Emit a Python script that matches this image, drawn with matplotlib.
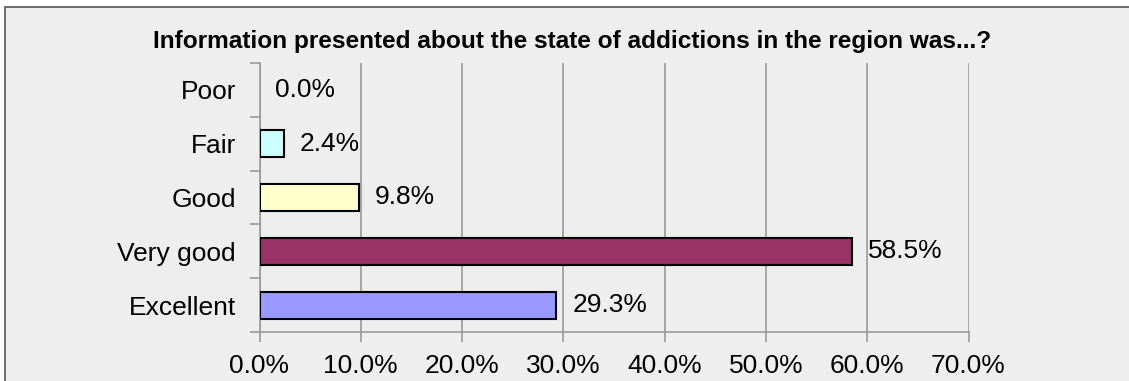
import matplotlib
matplotlib.use('Agg')
import matplotlib.pyplot as plt
from matplotlib.patches import Rectangle
from matplotlib.ticker import FuncFormatter

plt.rcParams['font.family'] = ['Liberation Sans', 'DejaVu Sans']

# data (bottom to top)
categories = ['Excellent', 'Very good', 'Good', 'Fair', 'Poor']
values = [29.3, 58.5, 9.8, 2.4, 0.0]
colors = ['#9999ff', '#993366', '#ffffcc', '#ccffff', '#ffffff']
title = 'Information presented about the state of addictions in the region was...?'

W, H = 1129, 381
fig = plt.figure(figsize=(W / 100, H / 100), dpi=100)
fig.patch.set_facecolor('white')

# outer frame of the chart area
fig.patches.append(Rectangle((5 / W, -0.05), 1.2, 1 - 7 / H + 0.05,
                             transform=fig.transFigure, facecolor='#eeeeee',
                             edgecolor='#555555', linewidth=1.2, zorder=-1))

ax = fig.add_axes([259.5 / W, 1 - 332 / H, (968.5 - 259.5) / W, (332 - 63) / H])
ax.set_facecolor('none')

pos = range(len(categories))
edges = ['black' if v > 0 else 'none' for v in values]
ax.barh(pos, values, height=0.5, color=colors, edgecolor=edges, linewidth=1.5, zorder=3)

for p, v in zip(pos, values):
    ax.annotate('%.1f%%' % v, (v, p), xytext=(11.5, 0), textcoords='offset points',
                ha='left', va='center', fontsize=19, zorder=4)

ax.set_xlim(0, 70)
ax.set_ylim(-0.5, len(categories) - 0.5)
ax.set_xticks(range(0, 71, 10))
ax.xaxis.set_major_formatter(FuncFormatter(lambda x, _: '%.1f%%' % x))
ax.set_yticks([p - 0.5 for p in range(len(categories) + 1)])
ax.set_yticklabels([])
ax.set_yticks(list(pos), minor=True)
ax.set_yticklabels(categories, minor=True)
ax.tick_params(axis='y', which='minor', length=0, pad=17, labelsize=19)
ax.tick_params(axis='y', which='major', length=7, color='#999999', width=1.2)
ax.tick_params(axis='x', length=7, color='#999999', width=1.2, pad=9, labelsize=19)

ax.grid(axis='x', color='#999999', linewidth=1.2, zorder=0)
for s in ['top', 'right']:
    ax.spines[s].set_visible(False)
for s in ['left', 'bottom']:
    ax.spines[s].set_color('#999999')
    ax.spines[s].set_linewidth(1.2)

fig.text(572 / W, 1 - 48 / H, title, ha='center', va='baseline',
         fontsize=17.6, fontweight='bold')

fig.savefig('out.png', dpi=100)
